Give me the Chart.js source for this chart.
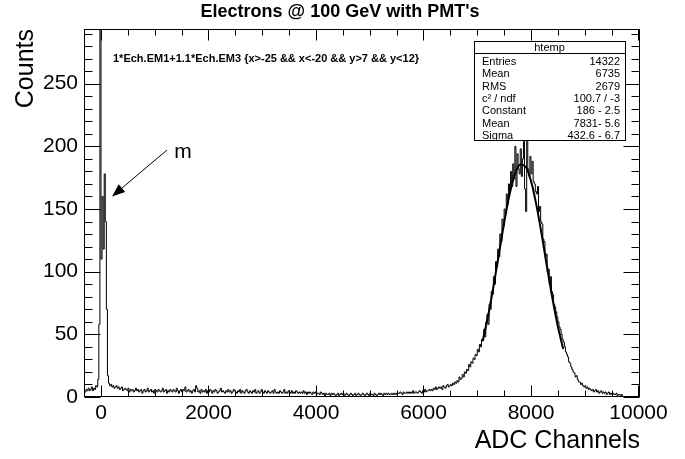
<!DOCTYPE html>
<html>
<head>
<meta charset="utf-8">
<script src="https://cdn.jsdelivr.net/npm/chart.js"></script>
<style>
  html, body { margin: 0; padding: 0; background: #fff; overflow: hidden; }
  canvas { display: block; }
</style>
</head>
<body>
<canvas id="chart" width="685" height="459"></canvas>
<script>
const FONT = "'Liberation Sans', Arial, Helvetica, sans-serif";

// histogram: 20-unit bins starting at -300
const binStart = -300;
const binWidth = 20;

// -300 .. 300 (pedestal spike)
const countsPedestal = [
  4, 6, 5, 7, 5, 6, 8, 5, 7, 6,
  9, 8, 14, 58, 300, 110, 160, 118, 178, 140,
  70, 17, 11, 9, 10, 8, 9, 7, 8, 9
];

// 300 .. 6300 (flat background)
const countsFlat = [
  7, 8, 6, 7, 8, 5, 6, 7, 6, 5,
  7, 4, 6, 5, 6, 4, 5, 7, 5, 6,
  4, 5, 6, 3, 5, 6, 4, 5, 7, 4,
  5, 6, 4, 5, 3, 6, 5, 4, 6, 5,
  4, 5, 7, 4, 5, 6, 3, 5, 4, 6,
  5, 4, 6, 5, 4, 7, 5, 3, 5, 6,
  4, 6, 5, 8, 4, 5, 6, 4, 5, 3,
  5, 6, 4, 9, 7, 4, 5, 3, 6, 4,
  5, 4, 6, 3, 5, 4, 6, 5, 3, 5,
  4, 6, 5, 3, 4, 5, 7, 4, 5, 4,
  3, 5, 4, 6, 4, 5, 3, 4, 6, 5,
  4, 3, 5, 4, 6, 3, 5, 4, 3, 5,
  6, 4, 3, 5, 4, 3, 5, 4, 6, 3,
  4, 5, 3, 4, 6, 4, 3, 5, 4, 3,
  5, 4, 3, 4, 5, 3, 6, 4, 3, 4,
  3, 5, 4, 3, 4, 6, 3, 4, 3, 5,
  4, 3, 5, 3, 4, 3, 5, 4, 3, 4,
  3, 4, 3, 5, 3, 4, 2, 4, 3, 4,
  3, 2, 4, 3, 4, 2, 3, 3, 2, 4,
  3, 2, 3, 1, 3, 2, 2, 3, 1, 3,
  2, 3, 2, 1, 2, 3, 1, 2, 3, 2,
  3, 1, 2, 3, 2, 1, 2, 3, 2, 1,
  2, 3, 1, 2, 3, 2, 1, 2, 3, 2,
  1, 2, 3, 2, 1, 3, 2, 2, 1, 3,
  2, 1, 2, 3, 2, 3, 2, 1, 3, 2,
  3, 2, 3, 2, 2, 3, 2, 3, 2, 3,
  2, 3, 3, 4, 3, 2, 4, 3, 3, 4,
  3, 4, 3, 4, 3, 5, 3, 4, 4, 3,
  4, 5, 4, 3, 5, 4, 6, 4, 5, 5,
  6, 5, 6, 5, 7, 6, 8, 6, 7, 8
];

// 6300 .. 9700 (electron peak)
const countsPeak = [
  7, 8, 6, 9, 8, 7, 9, 10, 8, 9,
  10, 9, 11, 10, 12, 11, 13, 12, 16, 14,
  15, 18, 16, 20, 19, 22, 21, 26, 24, 28,
  27, 31, 30, 34, 33, 38, 36, 42, 40, 46,
  45, 54, 48, 60, 66, 58, 74, 70, 84, 82,
  96, 90, 108, 104, 118, 112, 130, 124, 142, 136,
  150, 146, 162, 154, 170, 164, 180, 168, 186, 174,
  200, 168, 194, 182, 178, 198, 176, 190, 204, 166,
  148, 206, 182, 176, 192, 178, 188, 172, 170, 164,
  162, 168, 148, 152, 140, 138, 126, 124, 112, 114,
  100, 102, 90, 96, 84, 82, 74, 72, 68, 64,
  60, 56, 54, 50, 46, 44, 40, 36, 34, 32,
  28, 27, 24, 22, 20, 19, 16, 17, 14, 12,
  12, 10, 11, 9, 8, 9, 7, 8, 6, 7,
  6, 5, 6, 4, 5, 6, 4, 5, 3, 4,
  5, 3, 4, 3, 4, 2, 3, 4, 2, 3,
  2, 3, 2, 2, 3, 1, 2, 2, 1, 2
];

// gaussian fit curve
const fitX = [7100, 7200, 7300, 7400, 7500, 7600, 7700, 7800, 7900, 8000, 8100, 8200, 8300, 8400, 8500, 8600];
const fitY = [44.6, 64.2, 87.6, 113.2, 138.8, 161.3, 177.7, 185.5, 183.7, 172.3, 153.3, 129.3, 103.3, 78.3, 56.3, 38.3];

const xTickValues = [0, 2000, 4000, 6000, 8000, 10000];
const yTickValues = [0, 50, 100, 150, 200, 250];

const titleText = "Electrons @ 100 GeV with PMT's";
const statLabels = ['Entries', 'Mean', 'RMS', 'c\u00B2 / ndf', 'Constant', 'Mean', 'Sigma'];
const statValues = ['14322', '6735', '2679', '100.7 / -3', '186 - 2.5', '7831- 5.6', '432.6 - 6.7'];

const selectionText = '1*Ech.EM1+1.1*Ech.EM3 {x>-25 && x<-20 && y>7 && y<12}';
const arrowTail = { x: 1228, y: 197 };
const arrowTip = { x: 205, y: 160 };
const markLabel = { x: 1526, y: 195, text: 'm' };

const counts = [...countsPedestal, ...countsFlat, ...countsPeak];
const histPoints = counts.map((c, i) => ({ x: binStart + i * binWidth, y: c }));
histPoints.push({ x: binStart + counts.length * binWidth, y: 0 });
const fitPoints = fitX.map((x, i) => ({ x, y: fitY[i] }));

const rootFrame = {
  id: 'rootFrame',
  afterDraw(chart) {
    const { ctx, chartArea: a, scales: { x, y } } = chart;
    ctx.save();
    ctx.strokeStyle = '#000';
    ctx.lineWidth = 1;

    const line = (x1, y1, x2, y2) => {
      ctx.beginPath();
      ctx.moveTo(x1, y1);
      ctx.lineTo(x2, y2);
      ctx.stroke();
    };

    // frame
    const L = Math.round(a.left) + 0.5, R = Math.round(a.right) - 0.5;
    const T = Math.round(a.top) + 0.5, B = Math.round(a.bottom) - 0.5;
    ctx.strokeRect(L, T, R - L, B - T);

    // x ticks, inside, bottom and top
    for (let v = 0; v <= x.max; v += 500) {
      const px = Math.round(x.getPixelForValue(v)) + 0.5;
      const len = xTickValues.includes(v) ? 11 : 6;
      line(px, B, px, B - len);
      line(px, T, px, T + len);
    }
    // y ticks, inside, left and right
    for (let v = 0; v <= y.max; v += 10) {
      const py = Math.round(y.getPixelForValue(v)) + 0.5;
      const len = yTickValues.includes(v) ? 16 : 8;
      line(L, py, L + len, py);
      line(R, py, R - len, py);
    }

    // title
    ctx.fillStyle = '#000';
    ctx.textBaseline = 'middle';
    ctx.textAlign = 'center';
    ctx.font = 'bold 18px ' + FONT;
    ctx.fillText(titleText, 340, 12);

    // selection text
    ctx.font = 'bold 11px ' + FONT;
    ctx.textAlign = 'left';
    ctx.fillText(selectionText, 113, 59);

    // stats box
    const bx = 474, by = 41, bw = 151, bh = 99;
    ctx.fillStyle = '#fff';
    ctx.fillRect(bx, by, bw, bh);
    ctx.strokeRect(bx + 0.5, by + 0.5, bw, bh);
    line(bx, by + 12.5, bx + bw, by + 12.5);
    ctx.fillStyle = '#000';
    ctx.font = '11px ' + FONT;
    ctx.textAlign = 'center';
    ctx.fillText('htemp', bx + bw / 2, by + 6.5);
    statLabels.forEach((lab, i) => {
      const ty = by + 21 + i * 12.3;
      ctx.textAlign = 'left';
      ctx.fillText(lab, bx + 8, ty);
      ctx.textAlign = 'right';
      ctx.fillText(statValues[i], bx + bw - 5, ty);
    });

    // arrow to the pedestal
    const tx = x.getPixelForValue(arrowTail.x), ty = y.getPixelForValue(arrowTail.y);
    const hx = x.getPixelForValue(arrowTip.x), hy = y.getPixelForValue(arrowTip.y);
    const ang = Math.atan2(hy - ty, hx - tx);
    const hl = 13, hw = 5;
    const bxp = hx - hl * Math.cos(ang), byp = hy - hl * Math.sin(ang);
    line(tx, ty, bxp, byp);
    ctx.beginPath();
    ctx.moveTo(hx, hy);
    ctx.lineTo(bxp + hw * Math.sin(ang), byp - hw * Math.cos(ang));
    ctx.lineTo(bxp - hw * Math.sin(ang), byp + hw * Math.cos(ang));
    ctx.closePath();
    ctx.fill();

    ctx.font = '21px ' + FONT;
    ctx.textAlign = 'center';
    ctx.fillText(markLabel.text, x.getPixelForValue(markLabel.x), y.getPixelForValue(markLabel.y));
    ctx.restore();
  }
};

new Chart(document.getElementById('chart'), {
  type: 'line',
  data: {
    datasets: [
      {
        data: fitPoints,
        borderColor: '#000',
        borderWidth: 2,
        pointRadius: 0,
        tension: 0.4,
        cubicInterpolationMode: 'monotone',
        fill: false,
        order: 0
      },
      {
        data: histPoints,
        stepped: true,
        borderColor: '#000',
        borderWidth: 1,
        pointRadius: 0,
        fill: false,
        order: 1
      }
    ]
  },
  options: {
    responsive: false,
    animation: false,
    events: [],
    layout: { padding: { left: 0, right: 45, top: 29, bottom: 0 } },
    plugins: {
      legend: { display: false },
      tooltip: { enabled: false },
      title: { display: false }
    },
    scales: {
      x: {
        type: 'linear',
        min: -316,
        max: 10028,
        afterBuildTicks: (s) => { s.ticks = xTickValues.map((v) => ({ value: v })); },
        afterFit: (s) => { s.height = 62; },
        grid: { display: false, drawTicks: false, tickLength: 0 },
        border: { display: false },
        ticks: {
          color: '#000',
          font: { family: FONT, size: 21 },
          padding: 4,
          maxRotation: 0,
          autoSkip: false,
          callback: (v) => String(v)
        },
        title: {
          display: true,
          text: 'ADC Channels',
          align: 'end',
          color: '#000',
          font: { family: FONT, size: 25 },
          padding: { top: 0, bottom: 3 }
        }
      },
      y: {
        type: 'linear',
        min: 0,
        max: 293.6,
        afterBuildTicks: (s) => { s.ticks = yTickValues.map((v) => ({ value: v })); },
        afterFit: (s) => { s.width = 84; },
        grid: { display: false, drawTicks: false, tickLength: 0 },
        border: { display: false },
        ticks: {
          color: '#000',
          font: { family: FONT, size: 21 },
          padding: 6,
          callback: (v) => String(v)
        },
        title: {
          display: true,
          text: 'Counts',
          align: 'end',
          color: '#000',
          font: { family: FONT, size: 25 },
          padding: { top: 11, bottom: 0 }
        }
      }
    }
  },
  plugins: [rootFrame]
});
</script>
</body>
</html>
